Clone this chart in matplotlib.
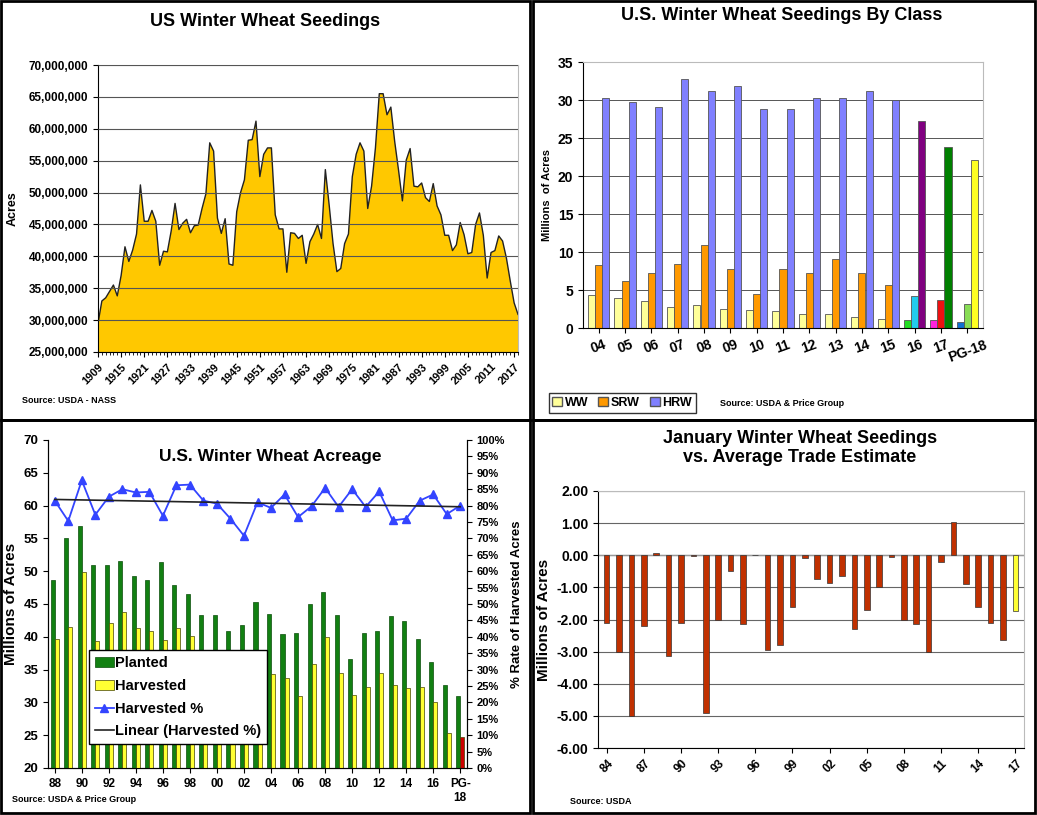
import matplotlib
matplotlib.use("Agg")
import matplotlib.pyplot as plt
import numpy as np
from matplotlib.patches import Rectangle
from matplotlib.ticker import FuncFormatter, MultipleLocator

plt.rcParams['font.family'] = ['Liberation Sans', 'DejaVu Sans']
plt.rcParams['font.weight'] = 'bold'
plt.rcParams['axes.labelweight'] = 'bold'

# ---------- data ----------
hist_years = list(range(1909, 2019))
hist_acres_m = [29.5, 33, 33.5, 34.5, 35.5, 33.8, 37, 41.5, 39.2, 41, 43.5, 51.2, 45.5, 45.5, 47.2, 45.5,
                38.6, 40.8, 40.7, 44, 48.3, 44.2, 45.2, 45.8, 43.7, 44.8, 44.9, 47.5, 49.8, 57.8, 56.5, 46,
                43.6, 45.9, 38.8, 38.6, 47, 50, 52, 58.2, 58.3, 61.2, 52.5, 56, 57, 57, 46.5, 44.3, 44.3,
                37.5, 43.7, 43.6, 42.8, 43.3, 38.9, 42.3, 43.5, 45, 42.8, 53.6, 48, 42, 37.6, 38.1, 42, 43.5,
                52.5, 56, 57.8, 56.5, 47.5, 51, 57, 65.5, 65.5, 62.2, 63.4, 58, 53.5,
                48.7, 55.1, 56.9, 51, 50.9, 51.5, 49.2, 48.6, 51.4, 47.9, 46.5, 43.3, 43.3, 40.9, 41.8,
                45.3, 43.4, 40.4, 40.6, 45, 46.8, 43.3, 36.6, 40.6, 40.9, 43.2, 42.4, 39.7, 36.1, 32.7, 30.9]

class_labels = ['04', '05', '06', '07', '08', '09', '10', '11', '12', '13', '14', '15', '16', '17', 'PG-18']
ww = [4.4, 4.0, 3.5, 2.8, 3.0, 2.5, 2.4, 2.3, 1.8, 1.8, 1.5, 1.2, 1.1, 1.0, 0.8]
srw = [8.3, 6.2, 7.3, 8.4, 10.9, 7.8, 4.5, 7.8, 7.2, 9.1, 7.3, 5.6, 4.2, 3.7, 3.2]
hrw = [30.3, 29.7, 29.1, 32.8, 31.2, 31.8, 28.8, 28.8, 30.3, 30.3, 31.2, 30.0, 27.2, 23.8, 22.1]

acr_labels = ['88', '89', '90', '91', '92', '93', '94', '95', '96', '97', '98', '99', '00', '01', '02', '03',
              '04', '05', '06', '07', '08', '09', '10', '11', '12', '13', '14', '15', '16', '17', 'PG-\n18']
planted = [48.7, 55.1, 56.9, 51, 50.9, 51.5, 49.2, 48.6, 51.4, 47.9, 46.5, 43.3, 43.3, 40.9, 41.8, 45.3,
           43.4, 40.4, 40.6, 45, 46.8, 43.3, 36.6, 40.6, 40.9, 43.2, 42.4, 39.7, 36.1, 32.7, 30.9]
harvested = [39.7, 41.5, 49.9, 39.4, 42.1, 43.8, 41.3, 40.9, 39.5, 41.3, 40.1, 35.3, 34.9, 31.1, 29.6, 36.7,
             34.4, 33.7, 31.0, 35.9, 40.0, 34.5, 31.1, 32.3, 34.5, 32.6, 32.2, 32.3, 30.1, 25.3, 24.7]
harv_pct = [81.5, 75.3, 87.7, 77.2, 82.7, 85, 84, 84.2, 76.9, 86.2, 86.4, 81.5, 80.6, 76, 70.8, 81,
            79.3, 83.4, 76.5, 79.8, 85.4, 79.6, 85, 79.6, 84.3, 75.5, 76, 81.5, 83.4, 77.4, 80]

jan_years = list(range(1984, 2018))
jan_diff = [-2.1, -3.0, -5.0, -2.2, 0.07, -3.15, -2.1, -0.02, -4.9, -2.0, -0.5, -2.15, 0.0, -2.95, -2.8, -1.6,
            -0.1, -0.75, -0.85, -0.65, -2.3, -1.7, -1.0, -0.05, -2.0, -2.15, -3.0, -0.2, 1.02, -0.88, -1.6,
            -2.1, -2.65, -1.75]

fig = plt.figure(figsize=(10.37, 8.15), dpi=100)

def fx(px): return px / 1037
def fy(py): return 1 - py / 815

for (x0, y0, x1, y1) in [(1, 1, 530, 420), (533, 1, 1035, 420), (1, 420, 530, 813), (533, 420, 1035, 813)]:
    fig.patches.append(Rectangle((fx(x0), fy(y1)), fx(x1 - x0), (y1 - y0) / 815, transform=fig.transFigure,
                                 fill=False, edgecolor='black', linewidth=2))

# ---------- top-left ----------
ax1 = fig.add_axes([fx(98), fy(352), fx(420), (352 - 65) / 815])
vals = np.array(hist_acres_m) * 1e6
ax1.fill_between(hist_years, vals, 25e6, color='#FFC800', edgecolor='none')
ax1.plot(hist_years, vals, color='#222222', lw=1)
ax1.set_xlim(1909, 2018)
ax1.set_ylim(25e6, 70e6)
ax1.yaxis.set_major_locator(MultipleLocator(5e6))
ax1.yaxis.set_major_formatter(FuncFormatter(lambda v, p: f"{int(v):,}"))
ax1.set_xticks(list(range(1909, 2018, 6)))
ax1.set_xticks(hist_years, minor=True)
ax1.tick_params(axis='x', labelrotation=45, labelsize=8)
ax1.tick_params(axis='y', labelsize=8.5)
for l in ax1.get_xticklabels():
    l.set_ha('right'); l.set_rotation_mode('anchor')
ax1.grid(axis='y', color='#555555', lw=0.8)
ax1.set_axisbelow(False)
for s in ['top', 'right']:
    ax1.spines[s].set_color('#bbbbbb')
ax1.set_ylabel('Acres', fontsize=9)
ax1.yaxis.set_label_coords(-0.19, 0.5)
fig.text(fx(265), fy(22), 'US Winter Wheat Seedings', ha='center', va='center', fontsize=13)
fig.text(fx(22), fy(403), 'Source: USDA - NASS', fontsize=6.5)

# ---------- top-right ----------
ax2 = fig.add_axes([fx(583), fy(328), fx(400), (328 - 62) / 815])
x = np.arange(len(class_labels))
w = 0.27
ww_c = ['#FFFF99'] * 12 + ['#22DD22', '#FF22DD', '#1070D0']
srw_c = ['#FF9900'] * 12 + ['#22CCEE', '#EE1111', '#88DD55']
hrw_c = ['#8080FF'] * 12 + ['#800080', '#008000', '#FFFF22']
ax2.bar(x - w, ww, w, color=ww_c, edgecolor='#555555', lw=0.6)
ax2.bar(x, srw, w, color=srw_c, edgecolor='#555555', lw=0.6)
ax2.bar(x + w, hrw, w, color=hrw_c, edgecolor='#555555', lw=0.6)
ax2.set_ylim(0, 35)
ax2.set_xlim(-0.6, len(x) - 0.4)
ax2.yaxis.set_major_locator(MultipleLocator(5))
ax2.set_xticks(x)
ax2.set_xticklabels(class_labels, rotation=20, fontsize=10)
ax2.tick_params(axis='y', labelsize=10)
ax2.grid(axis='y', color='#555555', lw=0.7)
ax2.set_axisbelow(True)
for s in ['top', 'right']:
    ax2.spines[s].set_color('#bbbbbb')
ax2.set_ylabel('Millions  of Acres', fontsize=8)
fig.text(fx(782), fy(15), 'U.S. Winter Wheat Seedings By Class', ha='center', va='center', fontsize=13)
fig.text(fx(720), fy(403), 'Source: USDA & Price Group', fontsize=6.5, va='center')
h = [Rectangle((0, 0), 1, 1, facecolor=c, edgecolor='#555555') for c in ['#FFFF99', '#FF9900', '#8080FF']]
fig.legend(h, ['WW', 'SRW', 'HRW'], loc='center', bbox_to_anchor=(fx(622), fy(403)), ncol=3, frameon=True,
           fancybox=False, edgecolor='black', fontsize=9, handlelength=0.8, handletextpad=0.2,
           columnspacing=0.8, borderpad=0.3)

# ---------- bottom-left ----------
ax3 = fig.add_axes([fx(48), fy(768), fx(419), (768 - 440) / 815])
x3 = np.arange(len(acr_labels))
bw = 0.3
ax3.bar(x3 - bw / 2, planted, bw, color='#128012', edgecolor='#0b4d0b', lw=0.5, label='Planted')
hcol = ['#FFFF33'] * (len(x3) - 1) + ['#CC0000']
ax3.bar(x3 + bw / 2, harvested, bw, color=hcol, edgecolor='#444400', lw=0.5, label='Harvested')
ax3.set_ylim(20, 70)
ax3.set_xlim(-0.5, len(x3) - 0.5)
ax3.yaxis.set_major_locator(MultipleLocator(5))
ax3.set_xticks(x3[::2])
ax3.set_xticklabels(acr_labels[::2], fontsize=8.5)
ax3.tick_params(axis='y', labelsize=9.5)
ax3.set_ylabel('Millions of Acres', fontsize=11)
ax3b = ax3.twinx()
ln, = ax3b.plot(x3, harv_pct, color='#3344FF', marker='^', ms=6, lw=1.3, label='Harvested %')
coef = np.polyfit(x3, harv_pct, 1)
tl, = ax3b.plot(x3, np.polyval(coef, x3), color='#222222', lw=1.2, label='Linear (Harvested %)')
ax3b.set_ylim(0, 100)
ax3b.yaxis.set_major_locator(MultipleLocator(5))
ax3b.yaxis.set_major_formatter(FuncFormatter(lambda v, p: f"{int(v)}%"))
ax3b.tick_params(labelsize=8)
ax3b.set_ylabel('% Rate of Harvested Acres', fontsize=9.5)
for a in (ax3, ax3b):
    a.spines['top'].set_visible(False)
h1, l1 = ax3.get_legend_handles_labels()
ax3.legend(h1 + [ln, tl], l1 + ['Harvested %', 'Linear (Harvested %)'], loc='lower left',
           bbox_to_anchor=(0.08, 0.05), fancybox=False, edgecolor='black', fontsize=10.5, framealpha=1,
           handlelength=1.3, handletextpad=0.1, labelspacing=0.6)
ax3.set_zorder(ax3b.get_zorder() + 1); ax3.patch.set_visible(False)
fig.text(fx(270), fy(457), 'U.S. Winter Wheat Acreage', ha='center', va='center', fontsize=12.5)
fig.text(fx(12), fy(800), 'Source: USDA & Price Group', fontsize=6.5, va='center')

# ---------- bottom-right ----------
ax4 = fig.add_axes([fx(598), fy(748), fx(426), (748 - 491) / 815])
x4 = np.array(jan_years)
cols = ['#C03000'] * (len(x4) - 1) + ['#FFFF33']
ax4.bar(x4, jan_diff, 0.45, color=cols, edgecolor='#333333', lw=0.5, zorder=3)
ax4.set_ylim(-6, 2)
ax4.set_xlim(1983.3, 2017.7)
ax4.yaxis.set_major_locator(MultipleLocator(1))
ax4.yaxis.set_major_formatter(FuncFormatter(lambda v, p: f"{v:.2f}"))
ax4.set_xticks(x4[::3])
ax4.set_xticklabels([f"{y % 100:02d}" for y in x4[::3]], rotation=45, fontsize=8.5)
ax4.tick_params(axis='y', labelsize=10)
ax4.grid(axis='y', color='#666666', lw=0.8)
ax4.axhline(0, color='#999999', lw=1)
for s in ['top', 'right']:
    ax4.spines[s].set_color('#bbbbbb')
ax4.set_ylabel('Millions of Acres', fontsize=11)
fig.text(fx(800), fy(448), 'January Winter Wheat Seedings\nvs. Average Trade Estimate', ha='center',
         va='center', fontsize=13, linespacing=1.2)
fig.text(fx(570), fy(801), 'Source: USDA', fontsize=6.5, va='center')

fig.savefig('out.png', dpi=100)
